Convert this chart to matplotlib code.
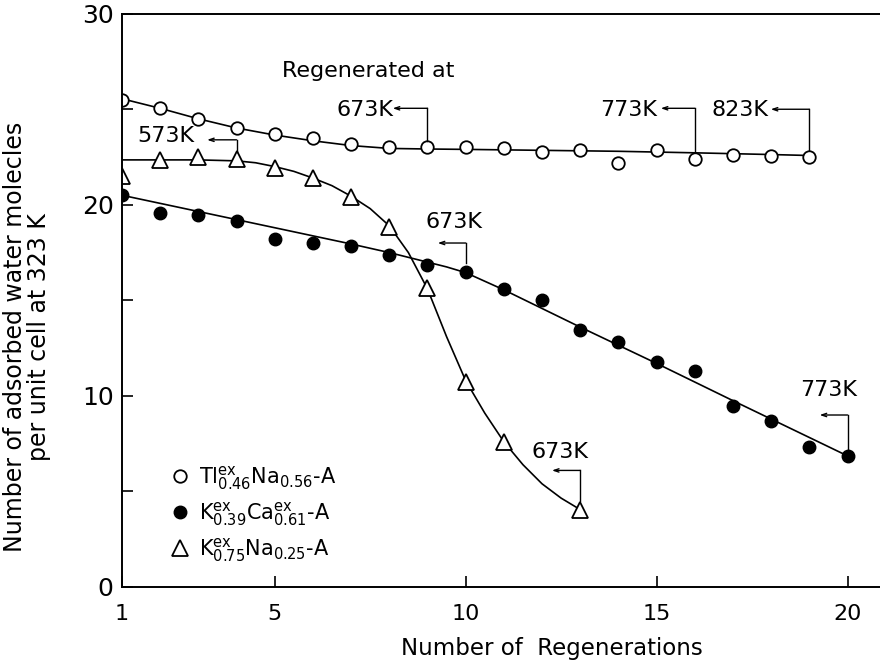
import matplotlib
matplotlib.use('Agg')
import matplotlib.pyplot as plt
from matplotlib.lines import Line2D

plt.rcParams['font.family'] = ['DejaVu Sans']
plt.rcParams['mathtext.fontset'] = 'dejavusans'

# measured points
n_regen = list(range(1, 21))
tl_na = [25.5, 25.06, 24.5, 24.0, 23.7, 23.5, 23.2, 23.0, 23.05, 23.0,
         22.95, 22.75, 22.85, 22.2, 22.85, 22.4, 22.6, 22.55, 22.5]
k_ca = [20.5, 19.56, 19.45, 19.15, 18.2, 18.0, 17.85, 17.35, 16.86, 16.5,
        15.6, 15.0, 13.45, 12.8, 11.8, 11.3, 9.45, 8.7, 7.3, 6.86]
k_na_x = list(range(1, 12)) + [13]
k_na = [21.5, 22.36, 22.5, 22.4, 21.9, 21.4, 20.4, 18.85, 15.65, 10.75, 7.6, 4.05]

# hand-drawn guide curves
tl_fit_x = [1, 2, 3, 4, 5, 6, 7, 8, 9, 10, 12, 14, 16, 18, 19]
tl_fit = [25.55, 25.05, 24.5, 24.02, 23.65, 23.35, 23.1, 22.95, 22.92, 22.9,
          22.85, 22.8, 22.72, 22.63, 22.58]
kca_fit_x = [1, 3, 5, 7, 8, 9, 9.5, 10, 11, 13, 15, 17, 20]
kca_fit = [20.5, 19.65, 18.8, 17.95, 17.5, 17.0, 16.75, 16.45, 15.55, 13.6,
           11.7, 9.75, 6.86]
kna_fit_x = [1, 2, 3, 4, 4.5, 5, 5.5, 6, 6.5, 7, 7.5, 8, 8.5, 9, 9.5, 10,
             10.5, 11, 11.5, 12, 12.5, 13]
kna_fit = [22.35, 22.35, 22.35, 22.3, 22.2, 22.0, 21.75, 21.4, 21.0, 20.45,
           19.8, 18.9, 17.5, 15.6, 13.1, 10.8, 9.1, 7.6, 6.4, 5.4, 4.65, 4.05]

# regeneration temperature notes
note_text = ['573K', '673K', '773K', '823K', '673K', '773K', '673K']
note_x = [4, 9, 16, 19, 10, 20, 13]
note_top = [22.75, 23.35, 22.75, 22.85, 16.95, 7.1, 4.5]
note_level = [23.4, 25.05, 25.05, 25.0, 18.0, 9.0, 6.1]
note_span = [0.77, 0.91, 0.89, 1.01, 0.73, 0.73, 0.74]
note_tx = [2.15, 7.36, 14.27, 17.18, 9.69, 19.5, 12.47]
note_ty = [23.6, 24.97, 24.97, 24.97, 19.1, 10.3, 7.08]

labels = [r'Tl$^{\mathrm{ex}}_{0.46}$Na$_{0.56}$-A',
          r'K$^{\mathrm{ex}}_{0.39}$Ca$^{\mathrm{ex}}_{0.61}$-A',
          r'K$^{\mathrm{ex}}_{0.75}$Na$_{0.25}$-A']

fig = plt.figure(figsize=(8.8, 6.62), dpi=100)
ax = fig.add_axes([0.1386, 0.1133, 0.8614, 0.866])

lw = 1.2
ax.plot(tl_fit_x, tl_fit, color='black', lw=lw)
ax.plot(kca_fit_x, kca_fit, color='black', lw=lw)
ax.plot(kna_fit_x, kna_fit, color='black', lw=lw)

ax.plot(n_regen[:19], tl_na, 'o', ms=9, mfc='white', mec='black', mew=1.3)
ax.plot(n_regen, k_ca, 'o', ms=9, mfc='black', mec='black')
ax.plot(k_na_x, k_na, '^', ms=11, mfc='white', mec='black', mew=1.3)

for t, x, y0, lev, sp, tx, ty in zip(note_text, note_x, note_top, note_level,
                                     note_span, note_tx, note_ty):
    ax.plot([x, x], [y0, lev], color='black', lw=1.0)
    ax.annotate('', xy=(x - sp, lev), xytext=(x, lev),
                arrowprops=dict(arrowstyle='->,head_length=0.35,head_width=0.12',
                                color='black', lw=1.0, shrinkA=0, shrinkB=0))
    ax.text(tx, ty, t, fontsize=16, ha='center', va='center')

ax.text(5.19, 27.0, 'Regenerated at', fontsize=16, ha='left', va='center')

ax.set_xlim(1, 20.85)
ax.set_ylim(0, 30)
ax.set_xticks([1, 5, 10, 15, 20])
ax.set_yticks([0, 10, 20, 30])
ax.set_yticks([5, 15, 25], minor=True)
ax.tick_params(axis='both', which='both', direction='in', length=8, width=1.2)
ax.tick_params(axis='x', labelsize=16, pad=12)
ax.tick_params(axis='y', labelsize=18, pad=6)
ax.spines['right'].set_visible(False)
for s in ['left', 'bottom', 'top']:
    ax.spines[s].set_linewidth(1.4)

ax.set_xlabel('Number of  Regenerations', fontsize=16.5)
ax.xaxis.set_label_coords(0.567, -0.088)
ax.set_ylabel('Number of adsorbed water molecles\nper unit cell at 323 K',
              fontsize=17, linespacing=1.0)
ax.yaxis.set_label_coords(-0.093, 0.436)

handles = [
    Line2D([], [], ls='none', marker='o', ms=9, mfc='white', mec='black', mew=1.3),
    Line2D([], [], ls='none', marker='o', ms=9, mfc='black', mec='black'),
    Line2D([], [], ls='none', marker='^', ms=11, mfc='white', mec='black', mew=1.3),
]
ax.legend(handles, labels, loc='lower left', bbox_to_anchor=(0.052, 0.025),
          frameon=False, fontsize=15, handlelength=1.0, handletextpad=0.4,
          labelspacing=0.4, borderaxespad=0)

fig.savefig('out.png', dpi=100)
